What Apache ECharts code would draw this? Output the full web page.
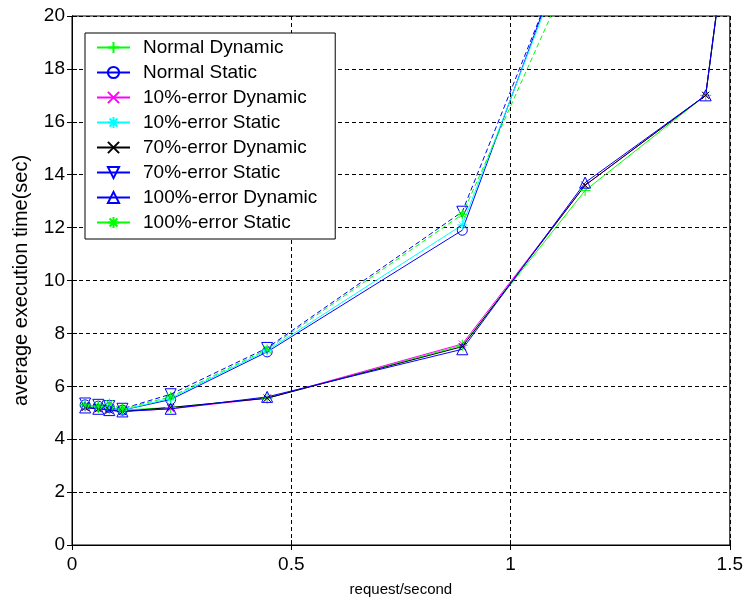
<!DOCTYPE html>
<html>
<head>
<meta charset="utf-8">
<script src="https://cdn.jsdelivr.net/npm/echarts@6/dist/echarts.min.js"></script>
<style>
  html, body { margin: 0; padding: 0; background: #fff; }
  #chart { width: 746px; height: 605px; }
</style>
</head>
<body>
<div id="chart"></div>
<script>
// request rates (x)
const xDynamic = [0.03, 0.06, 0.085, 0.115, 0.225, 0.445, 0.89, 1.17, 1.445, 1.5];
const xStatic = [0.03, 0.06, 0.085, 0.115, 0.225, 0.445, 0.89, 1.17];

// average execution time (sec)
const normalDynamic = [5.25, 5.2, 5.15, 5.1, 5.2, 5.55, 7.55, 13.4, 17.0, 23.8];
const normalStatic = [5.3, 5.25, 5.2, 5.1, 5.5, 7.3, 11.9, 24.5];
const err10Dynamic = [5.2, 5.15, 5.1, 5.05, 5.15, 5.55, 7.6, 13.6, 17.0, 24.0];
const err10Static = [5.3, 5.25, 5.2, 5.1, 5.55, 7.35, 12.1, 24.2];
const err70Dynamic = [5.2, 5.15, 5.1, 5.05, 5.2, 5.55, 7.5, 13.6, 17.0, 24.0];
const err70Static = [5.35, 5.3, 5.25, 5.15, 5.7, 7.45, 12.6, 24.2];
const err100Dynamic = [5.2, 5.15, 5.1, 5.05, 5.15, 5.6, 7.4, 13.7, 17.0, 24.0];
const err100Static = [5.3, 5.25, 5.35, 5.15, 5.6, 7.4, 12.5, 22.9];

const xTicks = [0, 0.5, 1, 1.5];
const yTicks = [0, 2, 4, 6, 8, 10, 12, 14, 16, 18, 20];

const font = 'Liberation Sans, Arial, sans-serif';

// matlab-ish markers
const marks = {
  plus: 'path://M5,0L5,10M0,5L10,5',
  cross: 'path://M1,1L9,9M9,1L1,9',
  star: 'path://M5,0L5,10M0,5L10,5M1.5,1.5L8.5,8.5M8.5,1.5L1.5,8.5',
  circle: 'path://M10,5A5,5,0,1,1,0,5A5,5,0,1,1,10,5Z',
  down: 'path://M0,0L10,0L5,9Z',
  up: 'path://M5,0L10,9L0,9Z'
};

function pairs(xs, ys) {
  return ys.map((y, i) => [xs[i], y]);
}

function mkSeries(name, xs, ys, color, symbol, size, dash) {
  return {
    name: name,
    type: 'line',
    data: pairs(xs, ys),
    symbol: marks[symbol],
    symbolSize: size,
    color: color,
    lineStyle: { color: color, width: 1, type: dash ? [5, 3] : 'solid' },
    itemStyle: { color: 'none', borderColor: color, borderWidth: 1 },
    emphasis: { disabled: true },
    animation: false
  };
}

const series = [
  mkSeries('Normal Dynamic', xDynamic, normalDynamic, '#00ff00', 'plus', 11),
  mkSeries('Normal Static', xStatic, normalStatic, '#0000ff', 'circle', 10),
  mkSeries('10%-error Dynamic', xDynamic, err10Dynamic, '#ff00ff', 'cross', 7),
  mkSeries('10%-error Static', xStatic, err10Static, '#00ffff', 'star', 10),
  mkSeries('70%-error Dynamic', xDynamic, err70Dynamic, '#000000', 'cross', 7),
  mkSeries('70%-error Static', xStatic, err70Static, '#0000ff', 'down', 11, true),
  mkSeries('100%-error Dynamic', xDynamic, err100Dynamic, '#0000ff', 'up', 11),
  mkSeries('100%-error Static', xStatic, err100Static, '#00ff00', 'star', 10, true)
];

const gridLine = { show: true, lineStyle: { color: '#000', type: [4, 3], width: 1 } };
const tickIn = { show: true, inside: true, length: 5, lineStyle: { color: '#000' } };

const chart = echarts.init(document.getElementById('chart'), null, { renderer: 'canvas' });
chart.setOption({
  backgroundColor: '#fff',
  animation: false,
  textStyle: { fontFamily: font },
  grid: { left: 72, right: 14, top: 16, bottom: 60, show: true, borderColor: '#000', borderWidth: 1 },
  legend: {
    orient: 'vertical',
    left: 85,
    top: 33,
    padding: [5, 18, 7, 11],
    itemWidth: 33,
    itemHeight: 14,
    itemGap: 6,
    backgroundColor: '#fff',
    borderColor: '#000',
    borderWidth: 1,
    borderRadius: 0,
    selectedMode: false,
    lineStyle: { type: 'solid' },
    textStyle: { fontFamily: font, fontSize: 19, color: '#000', padding: [0, 0, 0, 8] },
    data: series.map(s => s.name)
  },
  xAxis: [{
    type: 'value',
    min: xTicks[0],
    max: xTicks[xTicks.length - 1],
    interval: 0.5,
    name: 'request/second',
    nameLocation: 'middle',
    nameGap: 37,
    nameTextStyle: { fontSize: 15, color: '#000', fontFamily: font },
    axisLine: { show: true, lineStyle: { color: '#000' } },
    axisTick: tickIn,
    axisLabel: { color: '#000', fontSize: 19, margin: 10, fontFamily: font },
    splitLine: gridLine
  }, {
    type: 'value',
    position: 'top',
    min: xTicks[0],
    max: xTicks[xTicks.length - 1],
    interval: 0.5,
    axisLine: { show: true, lineStyle: { color: '#000' } },
    axisTick: tickIn,
    axisLabel: { show: false },
    splitLine: { show: false }
  }],
  yAxis: [{
    type: 'value',
    min: yTicks[0],
    max: yTicks[yTicks.length - 1],
    interval: 2,
    name: 'average execution time(sec)',
    nameLocation: 'middle',
    nameGap: 41,
    nameTextStyle: { fontSize: 20, color: '#000', fontFamily: font },
    axisLine: { show: true, lineStyle: { color: '#000' } },
    axisTick: tickIn,
    axisLabel: { color: '#000', fontSize: 19, margin: 7, fontFamily: font },
    splitLine: gridLine
  }, {
    type: 'value',
    position: 'right',
    min: yTicks[0],
    max: yTicks[yTicks.length - 1],
    interval: 2,
    axisLine: { show: true, lineStyle: { color: '#000' } },
    axisTick: tickIn,
    axisLabel: { show: false },
    splitLine: { show: false }
  }],
  series: series
});
</script>
</body>
</html>
